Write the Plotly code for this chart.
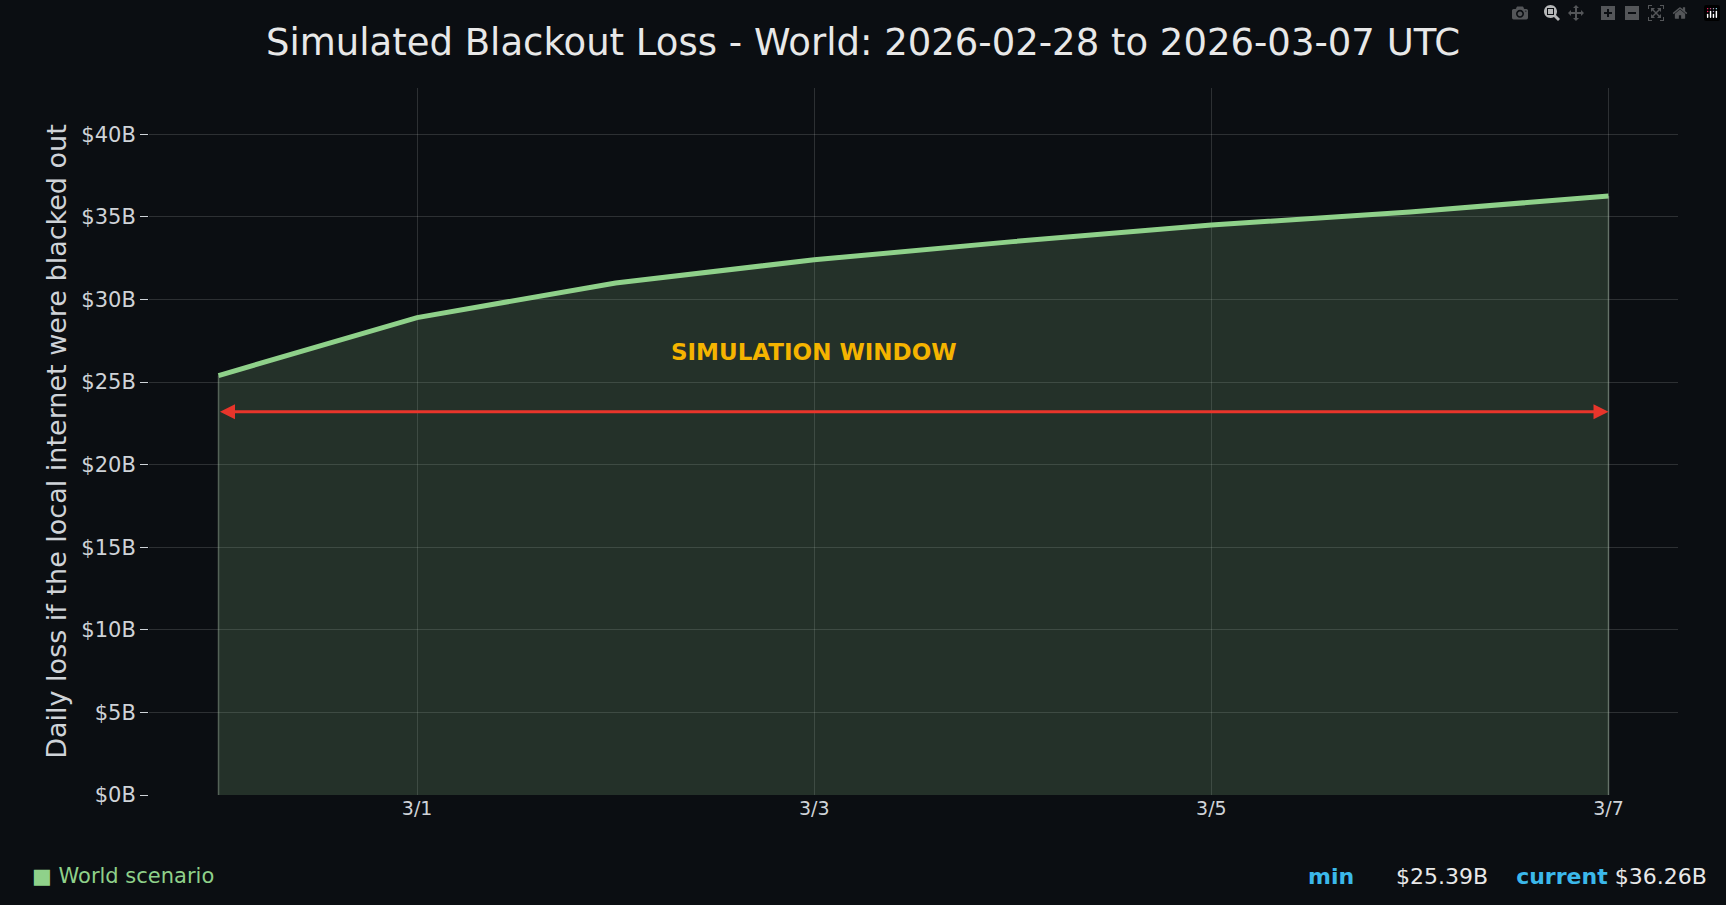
import plotly.graph_objects as go

dates = ["2026-02-28","2026-03-01","2026-03-02","2026-03-03","2026-03-04","2026-03-05","2026-03-06","2026-03-07"]
loss_b = [25.39, 28.9, 31.0, 32.4, 33.5, 34.5, 35.3, 36.26]
tick_dates = ["2026-03-01","2026-03-03","2026-03-05","2026-03-07"]
tick_text = ["3/1","3/3","3/5","3/7"]
y_ticks = [0,5,10,15,20,25,30,35,40]
window_level = 23.2

bg = "#0b0e12"
fig = go.Figure()
fig.add_trace(go.Scatter(x=dates, y=loss_b, mode="lines", fill="tozeroy",
    fillcolor="rgba(120,170,120,0.23)", line=dict(color="#8fd18a", width=5), hoverinfo="skip"))
for d in [dates[0], dates[-1]]:
    fig.add_shape(type="line", x0=d, x1=d, y0=0, y1=loss_b[dates.index(d)],
                  line=dict(color="rgba(160,180,160,0.45)", width=1.5))
fig.add_annotation(x=dates[-1], y=window_level, ax=dates[0], ay=window_level, xref="x", yref="y",
    axref="x", ayref="y", showarrow=True, arrowhead=2, arrowside="end+start", arrowsize=1,
    arrowwidth=3, arrowcolor="#e8352b", text="")
fig.add_annotation(x="2026-03-03", y=26.8, text="<b>SIMULATION WINDOW</b>", showarrow=False,
    font=dict(color="#f5b400", size=23))
fig.add_annotation(xref="paper", yref="paper", x=-0.078, y=-0.115, xanchor="left", yanchor="middle",
    showarrow=False, text="■ World scenario", font=dict(color="#8fd18a", size=21))
fig.add_annotation(xref="paper", yref="paper", x=1.02, y=-0.115, xanchor="right", yanchor="middle",
    showarrow=False,
    text=f"<b><span style='color:#3bb8ea'>min</span></b>      ${min(loss_b):.2f}B    <b><span style='color:#3bb8ea'>current</span></b> ${loss_b[-1]:.2f}B",
    font=dict(color="#e8e8e8", size=22))

fig.update_layout(
    width=1726, height=905, paper_bgcolor=bg, plot_bgcolor=bg, showlegend=False,
    margin=dict(l=149, r=48, t=88, b=110),
    font=dict(family="DejaVu Sans", color="#cfd3d8"),
    title=dict(text="Simulated Blackout Loss - World: 2026-02-28 to 2026-03-07 UTC", x=0.5, y=0.968,
               font=dict(size=37, color="#e8e8e8")),
    xaxis=dict(range=["2026-02-27 15:36","2026-03-07 08:24"], tickvals=tick_dates, ticktext=tick_text,
               gridcolor="rgba(255,255,255,0.14)", showline=False, zeroline=False,
               tickfont=dict(size=19), ticks=""),
    yaxis=dict(range=[0, 42.8], tickvals=y_ticks, ticktext=[f"${v}B" for v in y_ticks],
               gridcolor="rgba(255,255,255,0.14)", zeroline=False, ticks="outside", ticklen=8,
               tickcolor="#cfd3d8", tickfont=dict(size=21),
               title=dict(text="Daily loss if the local internet were blacked out", font=dict(size=27), standoff=6)),
)
fig.write_html("out.html")
with open("out.html") as f:
    html = f.read()
html = html.replace("<body>", "<body style=\"margin:0;background:#0b0e12\">", 1)
with open("out.html", "w") as f:
    f.write(html)
